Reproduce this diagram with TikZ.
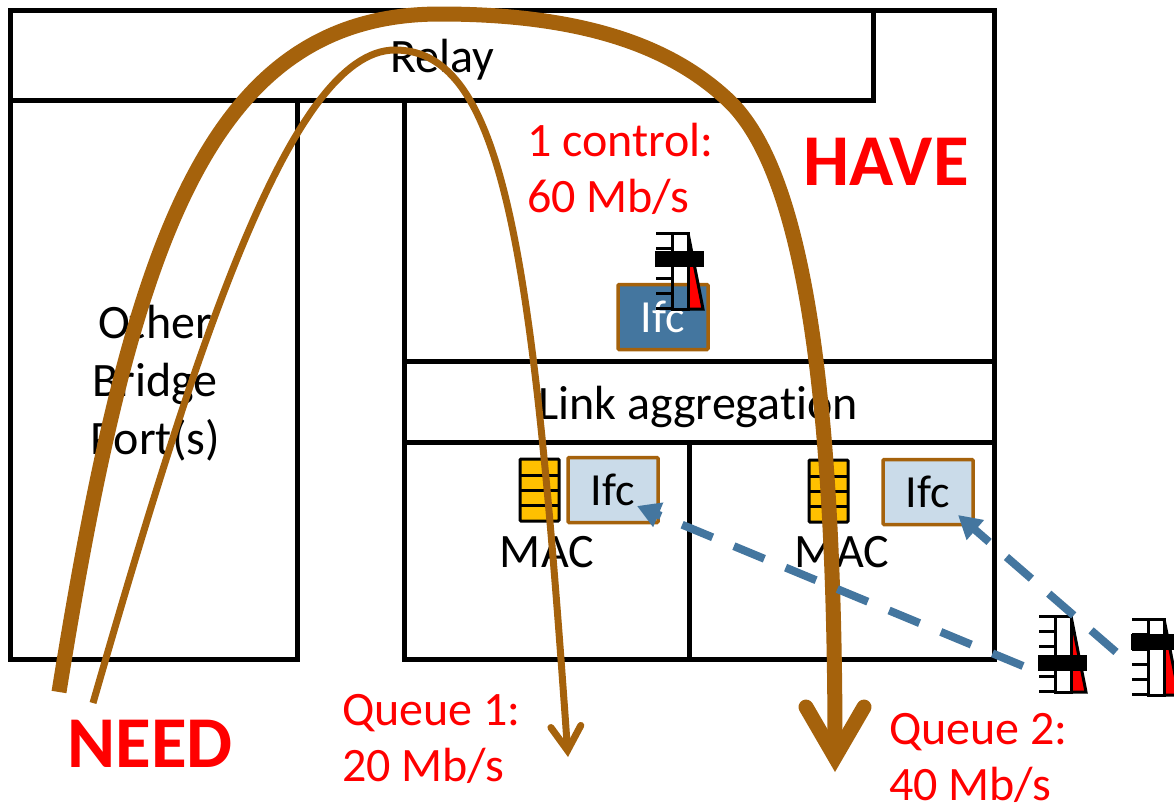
\documentclass[tikz,border=0pt]{standalone}
\usepackage{fontspec}
\setmainfont[Ligatures=CommonOff]{Carlito}
\usepackage{xcolor}
\usetikzlibrary{arrows.meta, positioning, calc}
\definecolor{flowbrown}{HTML}{A5620C}
\definecolor{ifcdark}{HTML}{44769F}
\definecolor{ifclight}{HTML}{CADBE9}
\definecolor{stackyellow}{HTML}{FFC000}
% gauge: x, y of top left corner of the white bar, offset of black band, top of red part
\newcommand{\bwgauge}[4]{
	\fill[red] (#1+16,#2+#4) -- (#1+16+#4*0.2,#2+#4) -- (#1+31,#2+76) -- (#1+16,#2+76) -- cycle;
	\foreach \t in {0,15,...,75} {
		\draw[line width=3pt] (#1-16,#2+\t) -- (#1,#2+\t);
	}
	\draw[line width=3pt] (#1,#2) rectangle (#1+16,#2+76);
	\draw[line width=3pt] (#1+16,#2) -- (#1+31,#2+76) -- (#1+16,#2+76);
	\fill (#1-17,#2+#3) rectangle (#1+32,#2+#3+16);
}
\newcommand{\macstack}[2]{
	\draw[fill=stackyellow,line width=3pt,rounded corners=1pt] (#1,#2) rectangle (#1+39,#2+62);
	\foreach \t in {16,31,46} {
		\draw[line width=3pt] (#1,#2+\t) -- (#1+39,#2+\t);
	}
}
\begin{document}
\begin{tikzpicture}[x=1pt,y=-1pt,
	wall/.style={line width=5pt},
	label node/.style={font=\fontsize{48}{58}\selectfont,align=center,inner sep=0pt},
	red node/.style={font=\fontsize{48}{56}\selectfont,text=red,align=left,inner sep=0pt},
	big node/.style={font=\fontsize{73}{75}\selectfont\bfseries,text=red,inner sep=0pt},
	ifc node/.style={draw=flowbrown,line width=3.5pt,rounded corners=1pt,minimum width=90pt,minimum height=65pt,inner sep=0pt,font=\fontsize{46}{50}\selectfont},
	flow/.style={draw=flowbrown},
	link/.style={draw=ifcdark,line width=8pt,dash pattern=on 33pt off 23pt,-{Triangle[length=23pt,width=25pt]}}]
	\useasboundingbox (0,0) rectangle (1174,806);

	% walls
	\draw[wall] (10,100) -- (10,10) -- (994,10) -- (994,659) -- (404,659) -- (404,100);
	\draw[wall] (10,100) -- (873,100) -- (873,10);
	\draw[wall] (10,100) -- (10,659) -- (297,659) -- (297,100);
	\draw[wall] (404,361) -- (994,361);
	\draw[wall] (404,442) -- (994,442);
	\draw[wall] (689,442) -- (689,659);

	\node[label node] (relay) at (442,60) {Relay};
	\node[label node] (other) at (155,383) {Other\\Bridge\\Port(s)};
	\node[label node] (agg) at (698,407) {Link aggregation};
	\node[label node] (mac1) at (547,552) {MAC};
	\node[label node] (mac2) at (842,552) {MAC};

	\node[ifc node,fill=ifcdark,text=white] (ifc0) at (663,317) {Ifc};
	\node[ifc node,fill=ifclight] (ifc1) at (613,490) {Ifc};
	\node[ifc node,fill=ifclight] (ifc2) at (928,492) {Ifc};

	\macstack{520}{459}
	\macstack{809}{460}

	\bwgauge{672}{233}{18}{32}
	\bwgauge{1055}{616}{39}{13}
	\bwgauge{1148}{619}{15}{31}

	\node[red node,anchor=west] (ctrl) at (527,169) {1 control:\\60 Mb/s};
	\node[red node,anchor=west] (q1) at (342,739) {Queue 1:\\20 Mb/s};
	\node[red node,anchor=west] (q2) at (889,758) {Queue 2:\\40 Mb/s};
	\node[big node] (have) at (886,162) {HAVE};
	\node[big node] (need) at (150,744) {NEED};

	% flows
	\coordinate (in1) at (59,692);
	\coordinate (top1) at (440,14);
	\coordinate (side1) at (728,100);
	\coordinate (out1) at (835,772);
	\coordinate (in2) at (93,703);
	\coordinate (top2) at (395,50);
	\coordinate (out2) at (568,757);
	\draw[flow,line width=15pt,-{Straight Barb[length=50pt,width=58pt,line cap=round,line join=miter]}] (in1) .. controls (130,250) and (205,14) .. (top1) .. controls (600,14) and (680,55) .. (side1) .. controls (805,172) and (835,400) .. (out1);
	\draw[flow,line width=7pt,-{Straight Barb[length=24pt,width=30pt,line cap=round,line join=miter]}] (in2) .. controls (194,353) and (290,50) .. (top2) .. controls (505,50) and (533,257) .. (out2);

	% queue feeds
	\coordinate (g1) at (1023,666);
	\coordinate (g2) at (1116,652);
	\path[link] (g1) -- (637,506);
	\path[link] (g2) -- (958,515);
\end{tikzpicture}
\end{document}
